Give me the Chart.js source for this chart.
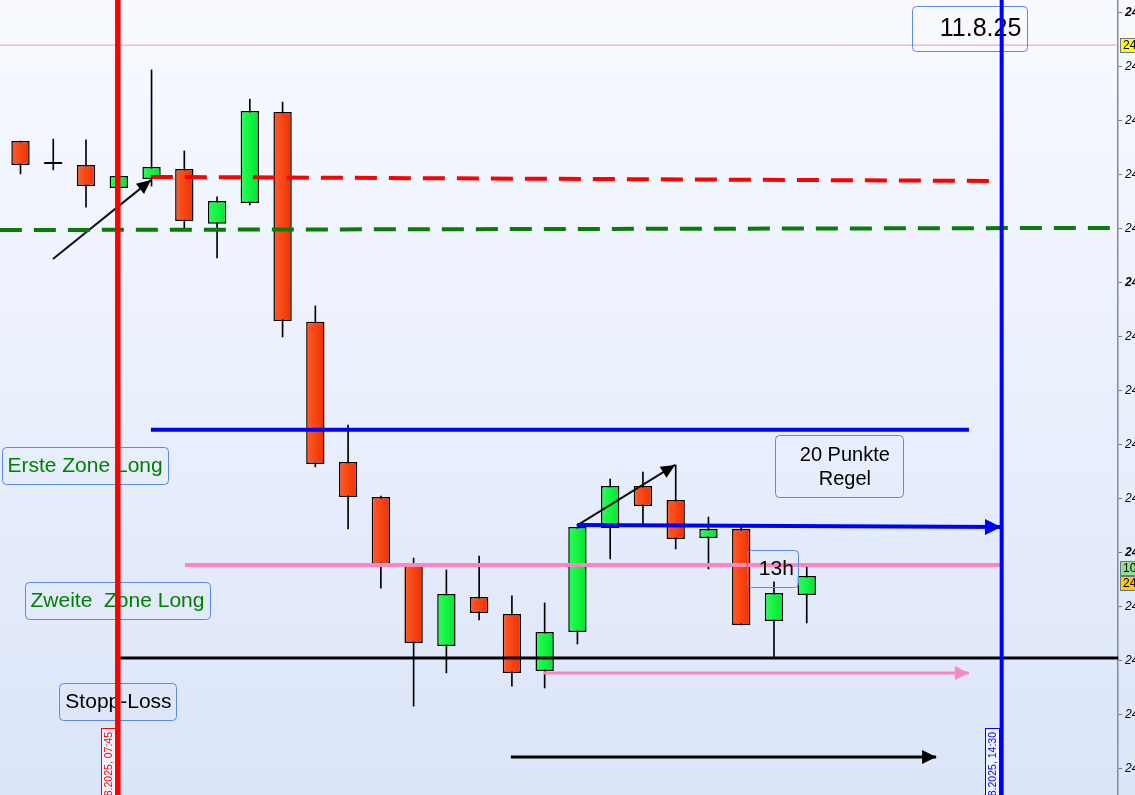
<!DOCTYPE html>
<html><head><meta charset="utf-8">
<script src="https://cdn.jsdelivr.net/npm/chart.js@4.4.1/dist/chart.umd.min.js"></script>
<style>html,body{margin:0;padding:0;overflow:hidden;background:#fff}#wrap{width:1135px;height:795px}</style>
</head><body><div id="wrap"><canvas id="c" width="1135" height="795"></canvas></div>
<script>
// ---- data ----
const candleTimes = ['07:00','07:15','07:30','07:45','08:00','08:15','08:30','08:45','09:00','09:15','09:30','09:45','10:00','10:15','10:30','10:45','11:00','11:15','11:30','11:45','12:00','12:15','12:30','12:45','13:00'];
const candleIndex = [0,1,2,3,4,5,6,7,8,9,10,11,12,13,14,15,16,17,18,19,20,21,22,23,24];
const opens  = [24252.6,24244.1,24243.7,24235.2,24238.5,24242.2,24221.9,24229.6,24263.3,24185.6,24133.7,24120.7,24096.3,24065.6,24083.7,24077.4,24056.3,24070.7,24109.3,24124.8,24119.6,24105.6,24108.9,24074.8,24084.4];
const highs  = [24252.6,24253.3,24253.0,24239.6,24278.9,24248.9,24231.9,24268.1,24267.0,24191.5,24147.4,24121.1,24098.1,24093.7,24098.9,24084.1,24081.5,24109.6,24127.4,24130.0,24132.6,24113.3,24109.6,24089.3,24095.2];
const lows   = [24240.4,24241.9,24228.1,24235.2,24235.9,24220.4,24209.3,24228.9,24180.0,24131.9,24108.9,24087.0,24043.3,24055.6,24075.2,24050.7,24050.0,24066.3,24097.8,24110.7,24101.5,24094.1,24073.3,24061.5,24074.1];
const closes = [24243.7,24244.8,24235.9,24239.6,24243.0,24223.0,24230.4,24263.7,24185.9,24133.0,24120.7,24095.9,24066.7,24084.8,24077.8,24055.6,24070.7,24109.6,24124.8,24117.4,24105.2,24108.9,24073.3,24085.2,24091.5];
const yTicks = [24020,24040,24060,24080,24100,24120,24140,24160,24180,24200,24220,24240,24260,24280,24300];

// annotation lines (x = candle index, y = price)
const refLineTop     = [[-0.63,24288.1],[33.51,24288.1]];
const redDashLine    = [[3.98,24239.3],[29.59,24237.8]];
const greenDashLine  = [[-0.63,24219.6],[33.51,24220.4]];
const blueLevel      = [[3.98,24145.6],[28.95,24145.6]];
const blueArrow      = [[16.99,24110.4],[29.93,24109.6]];
const pinkLevel      = [[5.02,24095.6],[29.93,24095.6]];
const blackLevel     = [[3.04,24061.1],[33.51,24061.1]];
const pinkArrow      = [[15.98,24055.6],[28.95,24055.6]];
const blackArrowLow  = [[14.97,24024.4],[27.95,24024.4]];
const arrowUp1       = [[0.99,24208.9],[3.98,24238.1]];
const arrowUp2       = [[16.98,24110.1],[19.98,24132.6]];
const markerX        = [2.97, 29.95];
const markerLabels   = ['11.08.2025, 07:45','11.08.2025, 14:30'];
const noteTexts = ['11.8.25','Erste Zone Long','Zweite  Zone Long','Stopp-Loss','20 Punkte\nRegel','13h'];
const noteX     = [28.97, 1.97, 2.96, 2.96, 24.98, 22.95];
const noteY     = [24294.3, 24132.4, 24082.4, 24045.0, 24132.2, 24094.3];
const axisRefPrice = 24288.1;
const lastPrice = 24088.9;
const timerText = '10';

// ---- styles ----
const FONT = "'Liberation Sans', Arial, sans-serif";
const noteStyle = [
  {w:115,h:45,dx:11,color:'#000',size:25},
  {w:166,h:37,dx:0,color:'#008000',size:21},
  {w:185,h:37,dx:0,color:'#008000',size:21},
  {w:117,h:37,dx:1,color:'#000',size:21},
  {w:128,h:62,dx:6,color:'#000',size:20},
  {w:51,h:37,dx:4,color:'#000',size:21}
];
const markerColors = ['#ff0000','#0000ff'];
const pts = a => a.map(p => ({x:p[0], y:p[1]}));
const Y_MIN = 24010.37, Y_MAX = 24304.81;

function bodyColor(c){
  const i = c.dataIndex;
  const up = closes[i] >= opens[i];
  const ch = c.chart;
  if (c.type !== 'data' || !ch.chartArea || !ch.scales.x) return up ? '#10f545' : '#f84018';
  const px = ch.scales.x.getPixelForValue(candleIndex[i]);
  const g = ch.ctx.createLinearGradient(px - 9, 0, px + 9, 0);
  if (up) { g.addColorStop(0,'#2aff5a'); g.addColorStop(1,'#00e62c'); }
  else { g.addColorStop(0,'#ff5c28'); g.addColorStop(1,'#f03000'); }
  return g;
}

function lineDs(label, arr, color, width, extra){
  return Object.assign({type:'line', label, data:pts(arr), borderColor:color, borderWidth:width,
    pointRadius:0, tension:0, fill:false, order:10, clip:false}, extra||{});
}

function head(ctx, a, b, len, half, color){
  const ang = Math.atan2(b.y - a.y, b.x - a.x);
  ctx.save(); ctx.translate(b.x, b.y); ctx.rotate(ang);
  ctx.beginPath(); ctx.moveTo(0,0); ctx.lineTo(-len,-half); ctx.lineTo(-len,half); ctx.closePath();
  ctx.fillStyle = color; ctx.fill(); ctx.restore();
}

function drawNotes(chart){
  const ctx = chart.ctx, xs = chart.scales.x, ys = chart.scales.y;
  noteTexts.forEach((t,i) => {
    const s = noteStyle[i];
    const cx = xs.getPixelForValue(noteX[i]), cy = ys.getPixelForValue(noteY[i]);
    ctx.save();
    ctx.beginPath();
    ctx.roundRect(Math.round(cx - s.w/2)+0.5, Math.round(cy - s.h/2)+0.5, s.w, s.h, 4);
    ctx.strokeStyle = '#5a8ae6'; ctx.lineWidth = 1; ctx.stroke();
    ctx.fillStyle = s.color; ctx.font = s.size + 'px ' + FONT;
    ctx.textAlign = 'center'; ctx.textBaseline = 'middle';
    const lines = t.split('\n');
    const lh = 24;
    lines.forEach((ln, k) => {
      ctx.fillText(ln, cx + s.dx, cy + 1 + (k - (lines.length-1)/2) * lh);
    });
    ctx.restore();
  });
}

const annot = {
  id:'annot',
  beforeDraw(chart){
    const ctx = chart.ctx;
    const g = ctx.createLinearGradient(0,0,0,chart.height);
    g.addColorStop(0,'#f8faff'); g.addColorStop(1,'#dbe5f9');
    ctx.save(); ctx.fillStyle = g; ctx.fillRect(0,0,chart.width,chart.height); ctx.restore();
  },
  beforeDatasetDraw(chart, args){
    if (chart.data.datasets[args.index].label === 'vRed') drawNotes(chart);
  },
  afterDatasetsDraw(chart){
    const ctx = chart.ctx, xs = chart.scales.x, ys = chart.scales.y;
    const P = p => ({x: xs.getPixelForValue(p[0]), y: ys.getPixelForValue(p[1])});
    head(ctx, P(blueArrow[0]), P(blueArrow[1]), 16, 8, '#0000ff');
    head(ctx, P(pinkArrow[0]), P(pinkArrow[1]), 14, 7, '#ff85c2');
    head(ctx, P(blackArrowLow[0]), P(blackArrowLow[1]), 14, 7, '#000');
    head(ctx, P(arrowUp1[0]), P(arrowUp1[1]), 14, 6.5, '#000');
    head(ctx, P(arrowUp2[0]), P(arrowUp2[1]), 14, 6.5, '#000');
    markerX.forEach((mx, i) => {
      const px = xs.getPixelForValue(mx);
      const left = Math.round(px - 17) + 0.5;
      ctx.save();
      ctx.fillStyle = '#eef3fd';
      ctx.fillRect(left, 728.5, 14, 80);
      ctx.strokeStyle = markerColors[i]; ctx.lineWidth = 1;
      ctx.strokeRect(left, 728.5, 14, 80);
      ctx.translate(left + 7.5, 732);
      ctx.rotate(-Math.PI/2);
      ctx.fillStyle = markerColors[i]; ctx.font = '10.5px ' + FONT;
      ctx.textAlign = 'right'; ctx.textBaseline = 'middle';
      ctx.fillText(markerLabels[i], 0, 0);
      ctx.restore();
    });
  },
  afterDraw(chart){
    const ctx = chart.ctx, ys = chart.scales.y;
    const x0 = chart.chartArea.right + 2;
    const tag = (v, dy, txt, fill) => {
      const y = ys.getPixelForValue(v) + dy;
      ctx.save();
      ctx.fillStyle = fill; ctx.fillRect(x0 + 0.5, Math.round(y - 7) + 0.5, 40, 14);
      ctx.strokeStyle = '#6a7a8a'; ctx.lineWidth = 1; ctx.strokeRect(x0 + 0.5, Math.round(y - 7) + 0.5, 40, 14);
      ctx.fillStyle = '#000'; ctx.font = '12px ' + FONT; ctx.textBaseline = 'middle'; ctx.textAlign = 'left';
      ctx.fillText(txt, x0 + 3, y + 0.5);
      ctx.restore();
    };
    tag(axisRefPrice, 0, String(axisRefPrice), '#ffff00');
    tag(lastPrice, -15, timerText, '#8fe08f');
    tag(lastPrice, 0, String(lastPrice), '#ffcc00');
  }
};

const datasets = [
  {type:'bar', label:'bodies', data: candleIndex.map((x,i)=>({x, y:[opens[i], closes[i]]})),
   backgroundColor: bodyColor, borderColor:'#000', borderWidth:1.5, borderSkipped:false,
   grouped:false, categoryPercentage:1, barPercentage:0.56, order:20},
  {type:'bar', label:'wicks', data: candleIndex.map((x,i)=>({x, y:[lows[i], highs[i]]})),
   backgroundColor:'#000', borderWidth:0, grouped:false, barThickness:1, order:21},
  lineDs('ref', refLineTop, '#ff9a9a', 1, {order:15}),
  lineDs('redDash', redDashLine, '#ff0000', 4, {borderDash:[22,12]}),
  lineDs('greenDash', greenDashLine, '#0a7a0a', 4, {borderDash:[22,12]}),
  lineDs('blueLevel', blueLevel, '#0000ff', 4),
  lineDs('blueArrow', blueArrow, '#0000ff', 4),
  lineDs('pinkLevel', pinkLevel, '#ff85c2', 4),
  lineDs('blackLevel', blackLevel, '#000', 3),
  lineDs('pinkArrow', pinkArrow, '#ff85c2', 3),
  lineDs('blackArrowLow', blackArrowLow, '#000', 3),
  lineDs('arrowUp1', arrowUp1, '#111', 2),
  lineDs('arrowUp2', arrowUp2, '#111', 2),
  lineDs('vRed', [[markerX[0], Y_MIN],[markerX[0], Y_MAX]], '#ff0000', 5.5, {order:2}),
  lineDs('vBlue', [[markerX[1], Y_MIN],[markerX[1], Y_MAX]], '#0000ff', 4, {order:1})
];

new Chart(document.getElementById('c'), {
  data: {datasets},
  options: {
    responsive:false, animation:false, devicePixelRatio:1,
    layout:{padding:0},
    plugins:{legend:{display:false}, tooltip:{enabled:false}},
    scales:{
      x:{type:'linear', min:-0.6258, max:33.501, display:false, offset:false, grid:{offset:false}},
      y:{type:'linear', position:'right', min:Y_MIN, max:Y_MAX,
         afterBuildTicks: s => { s.ticks = yTicks.map(v => ({value:v})); },
         afterFit: s => { s.width = 17; s.paddingTop = 0; s.paddingBottom = 0; },
         grid:{drawOnChartArea:false, drawTicks:true, tickLength:4, color:'#6a7a8a'},
         border:{color:'#7f8c9a', width:1.5},
         ticks:{padding:3, color:'#000', autoSkip:false,
           font: c => ({family:FONT, size:12, style:'italic', weight: (c.tick && c.tick.value % 100 === 0) ? 'bold' : 'normal'}),
           callback: v => String(v)}
      }
    }
  },
  plugins:[annot]
});
</script>
</body></html>
